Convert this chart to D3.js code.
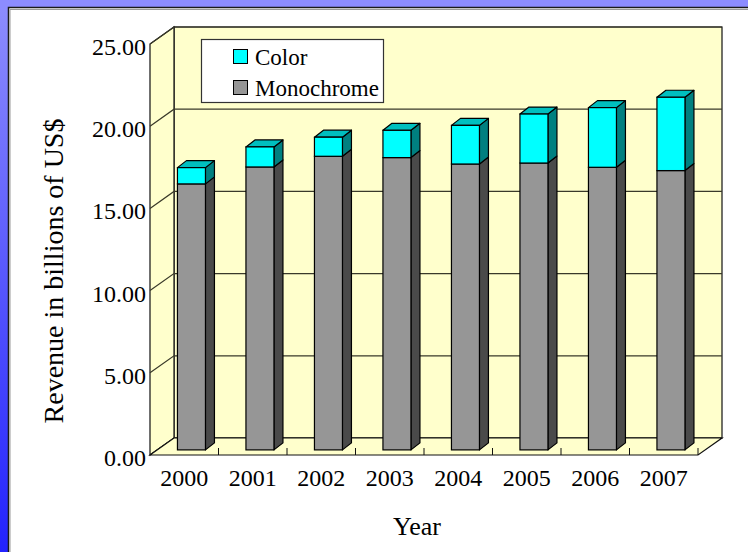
<!DOCTYPE html>
<html>
<head>
<meta charset="utf-8">
<script src="https://cdn.jsdelivr.net/npm/d3@7"></script>
<style>
  html, body { margin: 0; padding: 0; background: #fff; overflow: hidden; }
  svg { display: block; }
  text { font-family: "Liberation Serif", "Times New Roman", serif; fill: #000; }
</style>
</head>
<body>
<svg id="chart" width="748" height="552"></svg>
<script>
// Revenue by year, stacked: monochrome base with colour on top (billions of US$)
const years = ["2000", "2001", "2002", "2003", "2004", "2005", "2006", "2007"];
const monochrome = [16.18, 17.21, 17.86, 17.78, 17.39, 17.45, 17.19, 16.99];
const color = [0.99, 1.22, 1.16, 1.66, 2.35, 2.98, 3.63, 4.46];
const yTicks = [0, 5, 10, 15, 20, 25];
const seriesNames = ["Color", "Monochrome"];

const svg = d3.select("#chart");
const W = 748, H = 552;
const serif = "Liberation Serif, Times New Roman, serif";

// Frame: blue strips on top and left around a white panel
svg.append("rect").attr("x", 0).attr("y", 0).attr("width", W).attr("height", H).attr("fill", "#fff");
const defs = svg.append("defs");
const grad = defs.append("linearGradient")
  .attr("id", "frameGrad").attr("x1", 0).attr("y1", 0).attr("x2", 0).attr("y2", 1);
grad.append("stop").attr("offset", "0%").attr("stop-color", "#8e8eff");
grad.append("stop").attr("offset", "100%").attr("stop-color", "#2222ff");
svg.append("rect").attr("x", 0).attr("y", 0).attr("width", 9).attr("height", H).attr("fill", "url(#frameGrad)");
svg.append("rect").attr("x", 0).attr("y", 0).attr("width", W).attr("height", 8).attr("fill", "#8c8cff");
svg.append("path").attr("d", `M8.5,${H}V7.5H${W}`).attr("fill", "none").attr("stroke", "#1a1a1a").attr("stroke-width", 1.5);
svg.append("path").attr("d", `M10,${H}V9.5H${W}`).attr("fill", "none").attr("stroke", "#999").attr("stroke-width", 1);

// Scales on the front plane; the back wall is shifted by (dx, dy)
const x0 = 150, x1 = 698;
const y = d3.scaleLinear().domain([0, 25]).range([455, 44]);
const x = d3.scaleBand().domain(years).range([x0, x1]);
const dx = 24, dy = -17;

const wallFill = "#ffffcc";
const g = svg.append("g");

// Back wall
g.append("rect")
  .attr("x", x0 + dx).attr("y", y(25) + dy)
  .attr("width", x1 - x0).attr("height", y(0) - y(25))
  .attr("fill", wallFill).attr("stroke", "#111").attr("stroke-width", 1.2);
// Side wall
g.append("path")
  .attr("d", `M${x0},${y(0)}L${x0},${y(25)}L${x0 + dx},${y(25) + dy}L${x0 + dx},${y(0) + dy}Z`)
  .attr("fill", wallFill).attr("stroke", "#111").attr("stroke-width", 1.2);

// Gridlines across side and back walls
yTicks.forEach(v => {
  g.append("path")
    .attr("d", `M${x0},${y(v)}L${x0 + dx},${y(v) + dy}L${x1 + dx},${y(v) + dy}`)
    .attr("fill", "none").attr("stroke", "#3a3a2a").attr("stroke-width", 1.2);
});

// Floor
g.append("path")
  .attr("d", `M${x0},${y(0)}L${x0 + dx},${y(0) + dy}L${x1 + dx},${y(0) + dy}L${x1},${y(0)}Z`)
  .attr("fill", wallFill).attr("stroke", "#111").attr("stroke-width", 1.2);

// Category ticks along the front floor edge
const tickXs = years.slice(1).map(d => x(d)).concat([x1]);
tickXs.forEach(tx => {
  g.append("line")
    .attr("x1", tx).attr("x2", tx).attr("y1", y(0)).attr("y2", y(0) - 7)
    .attr("stroke", "#111").attr("stroke-width", 1);
});

// Value axis labels
const fmt = d3.format(".2f");
yTicks.forEach(v => {
  g.append("text")
    .attr("x", 146).attr("y", y(v) + 11)
    .attr("text-anchor", "end").attr("font-size", 24).attr("font-family", serif)
    .text(fmt(v));
});

// Category labels
years.forEach(d => {
  g.append("text")
    .attr("x", x(d) + x.bandwidth() / 2).attr("y", 486)
    .attr("text-anchor", "middle").attr("font-size", 24).attr("font-family", serif)
    .text(d);
});

// 3D bars: front face sits partway into the depth
const fx = 7.2, fy = -5.1;      // front face offset into the floor
const bw = 28;                  // front face width
const bdx = 9, bdy = -7;        // bar depth
const barColors = {
  mono: { front: "#969696", side: "#4a4a4a", top: "#b4b4b4" },
  color: { front: "#00ffff", side: "#008080", top: "#00bfbf" }
};

function drawBlock(parent, bx, v0, v1, c, withTop) {
  const yt = y(v1) + fy, yb = y(v0) + fy;
  parent.append("path")
    .attr("d", `M${bx + bw},${yb}L${bx + bw},${yt}L${bx + bw + bdx},${yt + bdy}L${bx + bw + bdx},${yb + bdy}Z`)
    .attr("fill", c.side).attr("stroke", "#000").attr("stroke-width", 1.2).attr("stroke-linejoin", "round");
  if (withTop) {
    parent.append("path")
      .attr("d", `M${bx},${yt}L${bx + bdx},${yt + bdy}L${bx + bw + bdx},${yt + bdy}L${bx + bw},${yt}Z`)
      .attr("fill", c.top).attr("stroke", "#000").attr("stroke-width", 1.2).attr("stroke-linejoin", "round");
  }
  parent.append("rect")
    .attr("x", bx).attr("y", yt).attr("width", bw).attr("height", yb - yt)
    .attr("fill", c.front).attr("stroke", "#000").attr("stroke-width", 1.2);
}

const bars = g.append("g");
years.forEach((d, i) => {
  const bx = x(d) + x.bandwidth() / 2 + fx - bw / 2;
  const bg = bars.append("g");
  const m = monochrome[i], c = color[i];
  drawBlock(bg, bx, 0, m, barColors.mono, false);
  drawBlock(bg, bx, m, m + c, barColors.color, true);
});

// Legend
const lg = svg.append("g");
lg.append("rect").attr("x", 201.5).attr("y", 39.5).attr("width", 182).attr("height", 63)
  .attr("fill", "#fff").attr("stroke", "#333").attr("stroke-width", 1.2);
const swatch = [barColors.color.front, barColors.mono.front];
seriesNames.forEach((name, i) => {
  const yy = 49 + i * 31;
  lg.append("rect").attr("x", 233.5).attr("y", yy + 0.5).attr("width", 14).attr("height", 14)
    .attr("fill", swatch[i]).attr("stroke", "#000").attr("stroke-width", 1);
  lg.append("text").attr("x", 255).attr("y", yy + 16).attr("font-size", 23).attr("font-family", serif).text(name);
});

// Axis titles
svg.append("text")
  .attr("transform", `translate(63,${271}) rotate(-90)`)
  .attr("text-anchor", "middle").attr("font-size", 28).attr("font-family", serif)
  .text("Revenue in billions of US$");
svg.append("text")
  .attr("x", 417).attr("y", 535)
  .attr("text-anchor", "middle").attr("font-size", 26).attr("font-family", serif)
  .text("Year");
</script>
</body>
</html>
